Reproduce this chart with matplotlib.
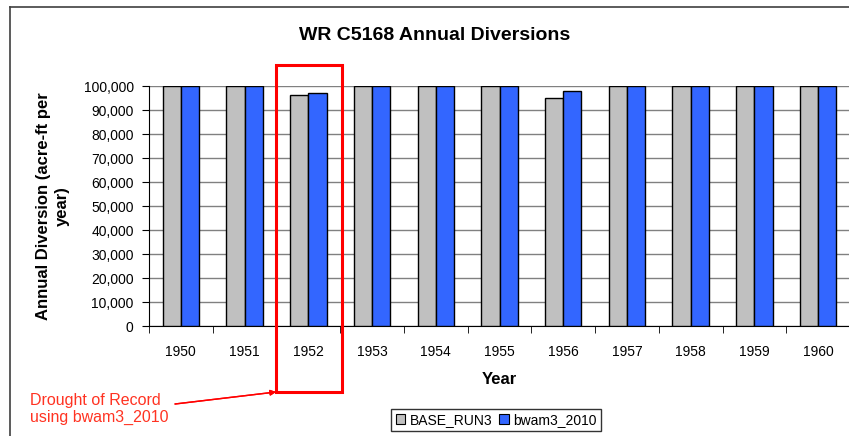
import matplotlib
matplotlib.use("agg")
import matplotlib.pyplot as plt
import numpy as np
from matplotlib.patches import Patch, Rectangle
from matplotlib.lines import Line2D

plt.rcParams["font.family"] = ["Liberation Sans", "DejaVu Sans"]

years = [1950, 1951, 1952, 1953, 1954, 1955, 1956, 1957, 1958, 1959, 1960]
base_run3 = [100000, 100000, 96500, 100000, 100000, 100000, 95300, 100000, 100000, 100000, 100000]
bwam3_2010 = [100000, 100000, 97200, 100000, 100000, 100000, 98100, 100000, 100000, 100000, 100000]
yticks = list(range(0, 100001, 10000))

W, H = 849, 436
fig = plt.figure(figsize=(W / 100, H / 100), dpi=100)

# chart frame (left and top edges visible)
fig.add_artist(Line2D([10 / W, 10 / W], [0, 1 - 7 / H], color="#404040", lw=1.2))
fig.add_artist(Line2D([10 / W, 1], [1 - 7 / H, 1 - 7 / H], color="#404040", lw=1.2))

ax = fig.add_axes([149 / W, (H - 326) / H, (850 - 149) / W, 239.5 / H])
x = np.arange(len(years))
bw = 0.286
ax.bar(x - bw / 2, base_run3, bw, color="#C0C0C0", edgecolor="black", lw=1.0, zorder=3)
ax.bar(x + bw / 2, bwam3_2010, bw, color="#3366FF", edgecolor="black", lw=1.0, zorder=3)

ax.set_xlim(-0.5, len(years) - 0.5)
ax.set_ylim(0, 100000)
ax.set_yticks(yticks)
ax.set_yticklabels([f"{v:,}" for v in yticks], fontsize=10)
ax.set_xticks(x)
ax.set_xticklabels([str(y) for y in years], fontsize=10)
ax.set_xticks(np.arange(-0.5, len(years), 1), minor=True)
ax.tick_params(axis="x", which="major", length=0, pad=14)
ax.tick_params(axis="x", which="minor", length=5, direction="out")
ax.tick_params(axis="y", length=5, direction="out", pad=6)
ax.grid(axis="y", color="#808080", lw=1.0, zorder=0)
for s in ["top", "right"]:
    ax.spines[s].set_visible(False)
ax.spines["left"].set_color("black")
ax.spines["bottom"].set_color("black")

ax.set_xlabel("Year", fontsize=12, fontweight="bold", labelpad=9)
ax.set_ylabel("Annual Diversion (acre-ft per\nyear)", fontsize=12, fontweight="bold",
              labelpad=10, linespacing=1.35)
fig.text(435 / W, 1 - 36 / H, "WR C5168 Annual Diversions", fontsize=14,
         fontweight="bold", ha="center", va="center")

handles = [Patch(facecolor="#C0C0C0", edgecolor="black", lw=0.8),
           Patch(facecolor="#3366FF", edgecolor="black", lw=0.8)]
fig.legend(handles, ["BASE_RUN3", "bwam3_2010"], loc="center",
           bbox_to_anchor=(496 / W, 1 - 420 / H), ncol=2, fontsize=10,
           frameon=True, fancybox=False, edgecolor="black", handlelength=0.7,
           handleheight=0.7, handletextpad=0.3, columnspacing=0.5,
           borderpad=0.3, borderaxespad=0)

# annotation: drought of record
fig.add_artist(Rectangle((276 / W, (H - 392) / H), 66 / W, 327 / H,
                         fill=False, edgecolor="red", lw=2.2))
fig.text(30 / W, 1 - 409 / H, "Drought of Record\nusing bwam3_2010", color="#FF3322",
         fontsize=11.5, ha="left", va="center", linespacing=1.15)
fig.add_artist(plt.annotate("", xy=(276 / W, 1 - 392 / H), xytext=(175 / W, 1 - 404 / H),
                            xycoords="figure fraction", textcoords="figure fraction",
                            arrowprops=dict(arrowstyle="-|>", color="red", lw=1.0,
                                            mutation_scale=8, shrinkA=0, shrinkB=0)))

fig.savefig("out.png", dpi=100)
